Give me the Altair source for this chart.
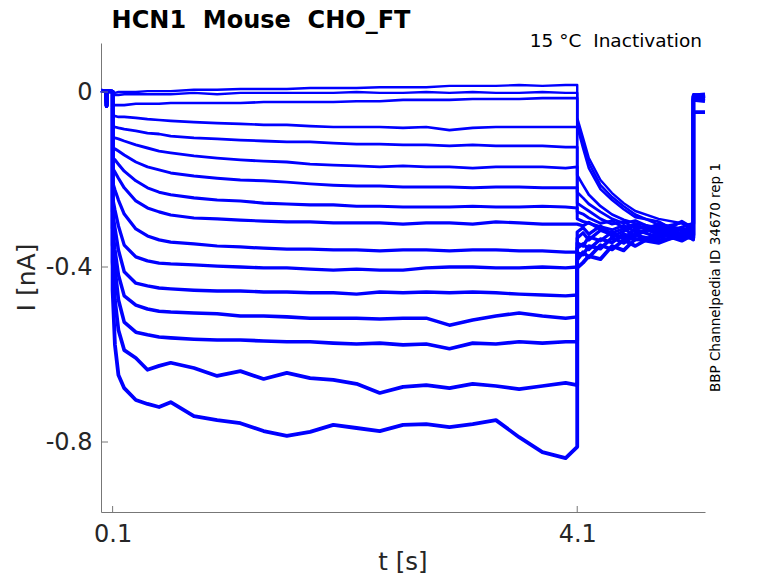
import altair as alt
import pandas as pd

# ---- time grids (s) ----
PRE_T = [0.0, 0.044, 0.048, 0.052, 0.1]
PRE_I = [0.003, 0.002, -0.032, 0.002, 0.001]
STEP_T = [0.1, 0.12, 0.15, 0.2, 0.3, 0.4, 0.5, 0.6, 0.8, 1.0, 1.2, 1.4, 1.6, 1.8,
          2.0, 2.2, 2.4, 2.6, 2.8, 3.0, 3.2, 3.4, 3.6, 3.8, 4.0, 4.1]
TAIL_T = [4.1, 4.15, 4.2, 4.3, 4.4, 4.5, 4.6, 4.8, 5.0, 5.1]
END_T = [5.1, 5.2]

# ---- traces (nA): step part, tail part, end part ----
S1 = [-0.002, -0.002, 0, 0, 0, 0.002, 0.002, 0.002, 0.005, 0.005, 0.007, 0.007, 0.007, 0.009, 0.009, 0.009, 0.011, 0.011, 0.011, 0.014, 0.014, 0.014, 0.016, 0.014, 0.016, 0.016]
T1 = [-0.059, -0.105, -0.151, -0.201, -0.231, -0.254, -0.272, -0.290, -0.300, -0.305]
E1 = [-0.009, -0.011]

S2 = [-0.007, -0.007, -0.007, -0.005, -0.005, -0.005, -0.005, -0.005, -0.002, -0.005, -0.002, -0.002, -0.002, -0.002, -0.002, 0, -0.002, -0.002, 0, -0.002, 0, -0.002, -0.002, 0, -0.002, -0.002]
T2 = [-0.069, -0.117, -0.162, -0.213, -0.240, -0.261, -0.280, -0.303, -0.312, -0.318]
E2 = [-0.005, -0.007]

S3 = [-0.032, -0.030, -0.030, -0.030, -0.027, -0.027, -0.027, -0.025, -0.025, -0.025, -0.025, -0.023, -0.023, -0.023, -0.023, -0.021, -0.021, -0.018, -0.018, -0.018, -0.016, -0.016, -0.016, -0.014, -0.014, -0.014]
T3 = [-0.078, -0.128, -0.174, -0.222, -0.247, -0.268, -0.286, -0.296, -0.325, -0.310]
E3 = [-0.016, -0.014]

S4 = [-0.055, -0.055, -0.057, -0.057, -0.059, -0.062, -0.064, -0.066, -0.069, -0.071, -0.073, -0.075, -0.075, -0.078, -0.080, -0.080, -0.080, -0.082, -0.080, -0.087, -0.082, -0.080, -0.080, -0.080, -0.080, -0.080]
T4 = [-0.190, -0.213, -0.235, -0.261, -0.280, -0.292, -0.300, -0.310, -0.299, -0.322]
E4 = [-0.011, -0.009]

S5 = [-0.080, -0.080, -0.082, -0.085, -0.089, -0.094, -0.096, -0.101, -0.105, -0.107, -0.110, -0.112, -0.114, -0.114, -0.117, -0.119, -0.119, -0.121, -0.121, -0.123, -0.121, -0.123, -0.123, -0.123, -0.126, -0.126]
T5 = [-0.229, -0.242, -0.256, -0.274, -0.290, -0.300, -0.294, -0.318, -0.330, -0.315]
E5 = [-0.007, -0.009]

S6 = [-0.103, -0.105, -0.107, -0.112, -0.121, -0.128, -0.135, -0.139, -0.146, -0.151, -0.155, -0.158, -0.160, -0.165, -0.167, -0.169, -0.171, -0.169, -0.171, -0.171, -0.174, -0.171, -0.171, -0.171, -0.174, -0.171]
T6 = [-0.254, -0.263, -0.272, -0.290, -0.302, -0.296, -0.312, -0.305, -0.316, -0.334]
E6 = [-0.014, -0.011]

S7 = [-0.128, -0.130, -0.135, -0.144, -0.160, -0.171, -0.178, -0.185, -0.192, -0.197, -0.201, -0.203, -0.206, -0.210, -0.213, -0.215, -0.215, -0.217, -0.217, -0.217, -0.219, -0.217, -0.217, -0.219, -0.219, -0.219]
T7 = [-0.274, -0.279, -0.288, -0.300, -0.295, -0.310, -0.302, -0.327, -0.309, -0.300]
E7 = [-0.009, -0.007]

S8 = [-0.151, -0.155, -0.165, -0.181, -0.203, -0.219, -0.229, -0.235, -0.242, -0.247, -0.249, -0.254, -0.256, -0.258, -0.258, -0.261, -0.261, -0.263, -0.263, -0.263, -0.261, -0.263, -0.263, -0.261, -0.263, -0.265]
T8 = [-0.290, -0.296, -0.300, -0.308, -0.315, -0.305, -0.320, -0.312, -0.336, -0.320]
E8 = [-0.018, -0.016]

S9 = [-0.174, -0.183, -0.197, -0.219, -0.249, -0.265, -0.274, -0.281, -0.288, -0.290, -0.293, -0.295, -0.297, -0.297, -0.299, -0.299, -0.299, -0.302, -0.299, -0.299, -0.302, -0.297, -0.299, -0.302, -0.302, -0.302]
T9 = [-0.302, -0.306, -0.298, -0.314, -0.322, -0.312, -0.330, -0.300, -0.318, -0.338]
E9 = [-0.011, -0.014]

S10 = [-0.206, -0.224, -0.247, -0.279, -0.313, -0.329, -0.338, -0.343, -0.347, -0.352, -0.354, -0.357, -0.359, -0.359, -0.361, -0.361, -0.363, -0.361, -0.361, -0.363, -0.361, -0.361, -0.363, -0.363, -0.366, -0.366]
T10 = [-0.320, -0.310, -0.325, -0.306, -0.330, -0.318, -0.305, -0.323, -0.296, -0.312]
E10 = [-0.007, -0.005]

S11 = [-0.242, -0.270, -0.306, -0.350, -0.377, -0.386, -0.391, -0.393, -0.395, -0.398, -0.400, -0.402, -0.402, -0.405, -0.407, -0.405, -0.407, -0.407, -0.402, -0.400, -0.400, -0.402, -0.402, -0.400, -0.402, -0.400]
T11 = [-0.334, -0.322, -0.338, -0.316, -0.326, -0.334, -0.314, -0.333, -0.322, -0.305]
E11 = [-0.016, -0.018]

S12 = [-0.274, -0.311, -0.361, -0.411, -0.437, -0.443, -0.448, -0.450, -0.453, -0.455, -0.455, -0.457, -0.457, -0.459, -0.459, -0.462, -0.457, -0.459, -0.457, -0.459, -0.457, -0.459, -0.462, -0.464, -0.466, -0.464]
T12 = [-0.345, -0.352, -0.331, -0.340, -0.320, -0.336, -0.325, -0.306, -0.328, -0.336]
E12 = [-0.009, -0.011]

S13 = [-0.311, -0.361, -0.418, -0.466, -0.487, -0.496, -0.501, -0.503, -0.505, -0.507, -0.512, -0.512, -0.514, -0.517, -0.517, -0.517, -0.519, -0.517, -0.517, -0.533, -0.521, -0.512, -0.505, -0.512, -0.517, -0.514]
T13 = [-0.357, -0.347, -0.360, -0.336, -0.344, -0.324, -0.338, -0.330, -0.310, -0.328]
E13 = [-0.014, -0.009]

S14 = [-0.350, -0.402, -0.475, -0.526, -0.549, -0.555, -0.560, -0.562, -0.565, -0.567, -0.567, -0.569, -0.571, -0.571, -0.574, -0.576, -0.574, -0.578, -0.576, -0.587, -0.574, -0.576, -0.571, -0.574, -0.571, -0.571]
T14 = [-0.368, -0.372, -0.352, -0.358, -0.333, -0.345, -0.328, -0.339, -0.331, -0.300]
E14 = [-0.011, -0.014]

S15 = [-0.389, -0.475, -0.544, -0.590, -0.608, -0.635, -0.626, -0.619, -0.631, -0.649, -0.638, -0.656, -0.642, -0.654, -0.658, -0.667, -0.688, -0.674, -0.670, -0.677, -0.667, -0.672, -0.679, -0.672, -0.665, -0.670]
T15 = [-0.384, -0.366, -0.378, -0.350, -0.360, -0.338, -0.352, -0.322, -0.340, -0.326]
E15 = [-0.018, -0.021]

S16 = [-0.453, -0.578, -0.647, -0.677, -0.704, -0.713, -0.720, -0.709, -0.741, -0.750, -0.757, -0.775, -0.786, -0.777, -0.761, -0.768, -0.775, -0.761, -0.759, -0.766, -0.759, -0.750, -0.789, -0.823, -0.837, -0.811]
T16 = [-0.402, -0.390, -0.375, -0.382, -0.352, -0.362, -0.336, -0.345, -0.325, -0.332]
E16 = [-0.046, -0.046]

STEPS = [S1, S2, S3, S4, S5, S6, S7, S8, S9, S10, S11, S12, S13, S14, S15, S16]
TAILS = [T1, T2, T3, T4, T5, T6, T7, T8, T9, T10, T11, T12, T13, T14, T15, T16]
ENDS = [E1, E2, E3, E4, E5, E6, E7, E8, E9, E10, E11, E12, E13, E14, E15, E16]

X_TICKS = [0.1, 4.1]
Y_TICKS = [0.0, -0.4, -0.8]

rows = []
for k, (s, tl, e) in enumerate(zip(STEPS, TAILS, ENDS)):
    ts = PRE_T + STEP_T + TAIL_T + END_T
    vs = PRE_I + s + tl + e
    for i, (t, v) in enumerate(zip(ts, vs)):
        rows.append({"trace": k, "idx": i, "t": t, "I": v})
df = pd.DataFrame(rows)

W, H = 604, 469
FONT = "DejaVu Sans"
AX = "#777777"
TXT = "#262626"

xs = alt.Scale(domain=[0, 5.2], nice=False, zero=False)
ys = alt.Scale(domain=[-0.96, 0.112], nice=False, zero=False)

lines = alt.Chart(df).mark_line(color="#0000ff", strokeJoin="round").encode(
    x=alt.X("t:Q", scale=xs,
            axis=alt.Axis(values=X_TICKS, format=".1f", title=None, grid=False,
                          tickSize=0, labelPadding=10, labelFontSize=24, labelFont=FONT,
                          labelColor=TXT, domainColor=AX, labelFlush=False)),
    y=alt.Y("I:Q", scale=ys,
            axis=alt.Axis(values=Y_TICKS, title=None, grid=False, tickSize=0,
                          labelPadding=9, labelFontSize=24, labelFont=FONT, labelColor=TXT,
                          domainColor=AX, labelFlush=False,
                          labelExpr="datum.value == 0 ? '0' : (datum.value < 0 ? '-' + format(-datum.value, '.1f') : format(datum.value, '.1f'))")),
    strokeWidth=alt.StrokeWidth("trace:Q", scale=alt.Scale(domain=[0, 15], range=[2.4, 3.8]), legend=None),
    detail="trace:N",
    order="idx:Q",
)

ytick = alt.Chart(pd.DataFrame({"v": Y_TICKS})).mark_rule(color=AX, strokeWidth=1).encode(
    y=alt.Y("v:Q", scale=ys), x=alt.value(0), x2=alt.value(7))
xtick = alt.Chart(pd.DataFrame({"v": X_TICKS})).mark_rule(color=AX, strokeWidth=1).encode(
    x=alt.X("v:Q", scale=xs), y=alt.value(H), y2=alt.value(H - 6))

def label(text, x, y, size, bold=False, angle=0, align="center", baseline="alphabetic", color="#000000"):
    return alt.Chart(pd.DataFrame({"s": [text]})).mark_text(
        font=FONT, fontSize=size, fontWeight="bold" if bold else "normal",
        angle=angle, align=align, baseline=baseline, color=color,
    ).encode(text="s:N", x=alt.value(x), y=alt.value(y))

NB = "\u00a0"
title = label(f"HCN1{NB} Mouse{NB} CHO_FT", 160, -15, 24, bold=True)
cond = label(f"15 °C{NB} Inactivation", 601, 4, 18.5, align="right")
side = label("BBP Channelpedia ID 34670 rep 1", 619, 234.5, 13.5, angle=270)
xlab = label("t [s]", 302, 527, 24.5, color=TXT)
ylab = label("I [nA]", -66, 234.5, 25, angle=270, color=TXT)

chart = alt.layer(lines, ytick, xtick, title, cond, side, xlab, ylab).properties(
    width=W, height=H,
    autosize=alt.AutoSizeParams(type="none"),
    padding={"left": 93, "top": 35, "right": 30, "bottom": 63},
    background="white",
).configure_view(stroke=None).configure_axis(domainWidth=1)

chart.save("out.html", embed_options={"renderer": "svg", "actions": False})
